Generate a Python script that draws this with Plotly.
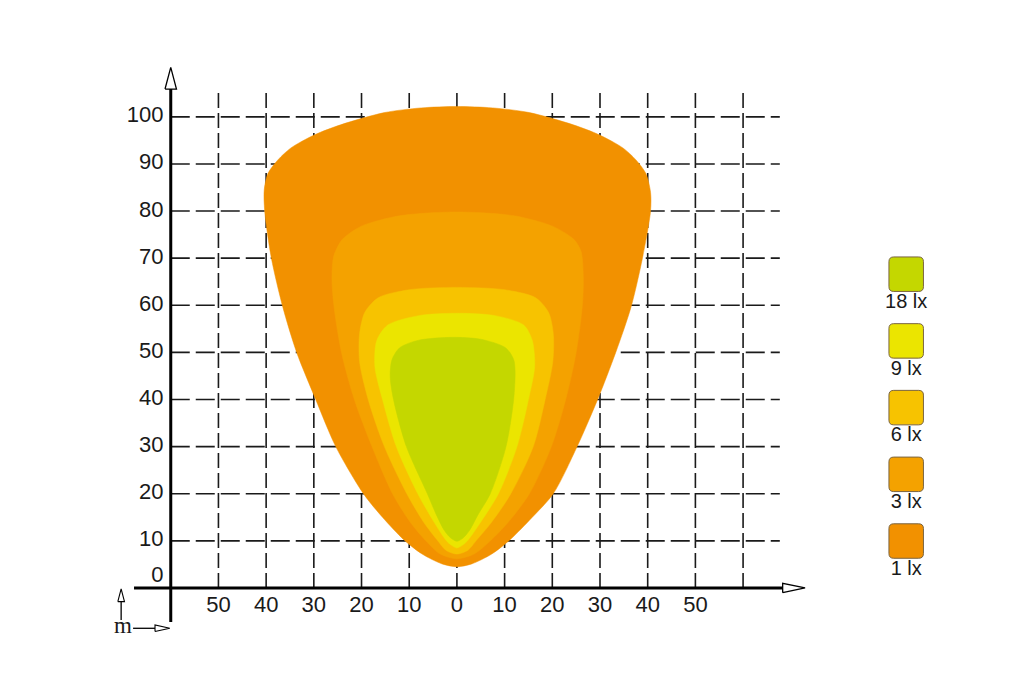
import plotly.graph_objects as go

# ─────────────────────────────────────────────────────────────
# DATA  (metres)
# ─────────────────────────────────────────────────────────────
x_tick_vals = [-50, -40, -30, -20, -10, 0, 10, 20, 30, 40, 50]
x_tick_text = ["50", "40", "30", "20", "10", "0", "10", "20", "30", "40", "50"]
y_tick_vals = [0, 10, 20, 30, 40, 50, 60, 70, 80, 90, 100]
y_tick_text = ["0", "10", "20", "30", "40", "50", "60", "70", "80", "90", "100"]

grid_x = [-50, -40, -30, -20, -10, 0, 10, 20, 30, 40, 50, 60]
grid_y = [10, 20, 30, 40, 50, 60, 70, 80, 90, 100]

# isolux contours, outer -> inner (left side up, across the top, right side down)
lux_1_x = [0, -3.1, -7.3, -11.1, -15.6, -19.6, -25.4, -29.6, -33.6, -36.5, -38.9, -40.3,
           -40.4, -39.6, -37.5, -34.8, -29.8, -24.4, -15.2, -7.5, 0,
           7.5, 15.2, 24.4, 29.8, 34.8, 37.5, 39.6, 40.6, 40.6, 38.9, 36.5,
           33.3, 29.5, 25.2, 20.2, 15.8, 11.1, 7.3, 3.1]
lux_1_y = [4.5, 5.1, 7.2, 10.2, 15, 20, 30, 40, 50, 59.6, 70, 80,
           84.5, 88, 90.9, 93.4, 96.2, 98.3, 100.9, 101.9, 102.2,
           101.9, 100.9, 98.3, 96.2, 93.4, 90.9, 88, 84, 80, 70, 59.6,
           50, 40, 30, 20, 15, 10.2, 7.2, 5.1]

lux_3_x = [0, -3.5, -6.5, -9.8, -13.5, -17.8, -21.5, -24.2, -25.8, -26.2, -25.8, -24.0,
           -20.0, -12.0, 0, 12.0, 20.0, 24.5, 26.0, 26.5, 26.3, 25.0, 22.8, 19.8,
           15.2, 10.8, 7.0, 3.6]
lux_3_y = [6.2, 7.2, 10, 14, 20, 30, 40, 50, 60, 66, 70.5, 74,
           76.8, 79, 79.8, 79, 76.8, 74, 71.5, 66, 60, 50, 40, 30,
           20, 14, 10, 7.2]

lux_6_x = [0, -2.3, -4.0, -7.0, -10.5, -15.2, -18.6, -20.4, -20.4, -19.3, -16.5, -10.0, 0,
           10.0, 16.5, 19.2, 20.2, 20.1, 18.5, 16.0, 11.3, 7.3, 4.0, 2.3]
lux_6_y = [7.2, 8.0, 10, 14, 20, 30, 40, 48, 54, 58.5, 61.6, 63.3, 63.8,
           63.3, 61.6, 58.5, 54, 48, 40, 30, 20, 14, 10, 8.0]

lux_9_x = [0, -1.2, -2.2, -4.8, -8.2, -12.7, -15.6, -17.2, -16.8, -14.5, -8.0, 0,
           8.0, 14.0, 15.8, 16.3, 15.0, 12.6, 8.7, 5.0, 2.2, 1.2]
lux_9_y = [8.5, 9.1, 10, 14, 20, 30, 40, 47, 52.5, 55.8, 57.8, 58.3,
           57.8, 55.8, 52.5, 47, 40, 30, 20, 14, 10, 9.1]

lux_18_x = [0, -1.3, -2.7, -4.3, -6.2, -10.6, -13.3, -14.0, -13.6, -12.0, -8.0, -1.0,
            5.0, 10.2, 11.9, 12.2, 11.9, 10.3, 7.0, 4.4, 2.7, 1.3]
lux_18_y = [9.9, 10.6, 12.3, 15.5, 20, 30, 40, 45, 48.5, 51, 52.6, 53.2,
            52.8, 51, 48.5, 46, 40, 30, 20, 15.5, 12.3, 10.6]

legend_labels = ["18 lx", "9 lx", "6 lx", "3 lx", "1 lx"]
legend_colors = ["#C4D700", "#EBE500", "#F7C300", "#F4A200", "#F29100"]

# ─────────────────────────────────────────────────────────────
# LAYOUT CONSTANTS
# ─────────────────────────────────────────────────────────────
X_RANGE = [-95.8, 118.9]
Y_RANGE = [-18.9, 124.8]
FONT = "Liberation Sans, Arial, sans-serif"
INK = "#1a1a1a"

AX_X = -60          # vertical axis position
AX_Y = 0            # horizontal axis position
GRID_TOP = 105.3
GRID_RIGHT = 67.7

LEG_X = 94.2
LEG_Y0 = 66.6
LEG_STEP = 14.16
LEG_W, LEG_H = 7.23, 7.32

fig = go.Figure()

# ─────────────────────────────────────────────────────────────
# DASHED GRID
# ─────────────────────────────────────────────────────────────
vx, vy = [], []
for gx in grid_x:
    vx += [gx, gx, None]
    vy += [AX_Y, GRID_TOP, None]
fig.add_trace(go.Scatter(x=vx, y=vy, mode="lines",
                         line=dict(color=INK, width=1.6, dash="15px,5px")))

hx, hy = [], []
for gy in grid_y:
    hx += [AX_X, GRID_RIGHT, None]
    hy += [gy, gy, None]
fig.add_trace(go.Scatter(x=hx, y=hy, mode="lines",
                         line=dict(color=INK, width=1.6, dash="19px,6px")))

# ─────────────────────────────────────────────────────────────
# ISOLUX AREAS
# ─────────────────────────────────────────────────────────────
areas = [
    (lux_1_x, lux_1_y, legend_colors[4]),
    (lux_3_x, lux_3_y, legend_colors[3]),
    (lux_6_x, lux_6_y, legend_colors[2]),
    (lux_9_x, lux_9_y, legend_colors[1]),
    (lux_18_x, lux_18_y, legend_colors[0]),
]
for ax_, ay_, col in areas:
    fig.add_trace(go.Scatter(
        x=ax_ + ax_[:1], y=ay_ + ay_[:1],
        mode="lines", fill="toself", fillcolor=col,
        line=dict(color=col, width=0.5, shape="spline", smoothing=0.8),
    ))

# ─────────────────────────────────────────────────────────────
# AXES WITH OPEN ARROW HEADS
# ─────────────────────────────────────────────────────────────
fig.add_trace(go.Scatter(x=[AX_X, AX_X], y=[-7.2, 106.0], mode="lines",
                         line=dict(color="black", width=3)))
fig.add_trace(go.Scatter(x=[-67.7, 68.3], y=[AX_Y, AX_Y], mode="lines",
                         line=dict(color="black", width=3)))

heads = [
    ([AX_X - 1.2, AX_X + 1.2, AX_X, AX_X - 1.2], [105.9, 105.9, 110.5, 105.9]),
    ([68.3, 68.3, 73.0, 68.3], [AX_Y - 1.0, AX_Y + 1.0, AX_Y, AX_Y - 1.0]),
]
for hx_, hy_ in heads:
    fig.add_trace(go.Scatter(x=hx_, y=hy_, mode="lines", fill="toself",
                             fillcolor="white", line=dict(color="black", width=1.3)))

# small unit marker: up arrow, "m", right arrow
fig.add_trace(go.Scatter(x=[-70.4, -70.4], y=[-6.8, -2.9], mode="lines",
                         line=dict(color="black", width=1.3)))
fig.add_trace(go.Scatter(x=[-71.1, -69.7, -70.4, -71.1], y=[-2.9, -2.9, -0.2, -2.9],
                         mode="lines", fill="toself", fillcolor="white",
                         line=dict(color="black", width=1.1)))
fig.add_trace(go.Scatter(x=[-67.9, -63.3], y=[-8.56, -8.56], mode="lines",
                         line=dict(color="black", width=1.3)))
fig.add_trace(go.Scatter(x=[-63.3, -63.3, -60.2, -63.3], y=[-9.26, -7.86, -8.56, -9.26],
                         mode="lines", fill="toself", fillcolor="white",
                         line=dict(color="black", width=1.1)))
fig.add_trace(go.Scatter(x=[-70.0], y=[-8.3], mode="text", text=["m"],
                         textfont=dict(family="Liberation Serif, Times New Roman, serif",
                                       size=23, color=INK)))

# ─────────────────────────────────────────────────────────────
# TICK LABELS
# ─────────────────────────────────────────────────────────────
fig.add_trace(go.Scatter(
    x=x_tick_vals, y=[-3.9] * len(x_tick_vals), mode="text", text=x_tick_text,
    textposition="middle center", textfont=dict(family=FONT, size=22, color=INK),
))
fig.add_trace(go.Scatter(
    x=[AX_X - 1.5] * len(y_tick_vals), y=y_tick_vals, mode="text", text=y_tick_text,
    textposition=["top left"] + ["middle left"] * (len(y_tick_vals) - 1),
    textfont=dict(family=FONT, size=22, color=INK),
))

# ─────────────────────────────────────────────────────────────
# LEGEND (rounded swatches)
# ─────────────────────────────────────────────────────────────
def rounded_box(cx, cy, w, h, rx, ry):
    x0, x1 = cx - w / 2, cx + w / 2
    y0, y1 = cy - h / 2, cy + h / 2
    return (f"M {x0 + rx},{y0} L {x1 - rx},{y0} Q {x1},{y0} {x1},{y0 + ry} "
            f"L {x1},{y1 - ry} Q {x1},{y1} {x1 - rx},{y1} L {x0 + rx},{y1} "
            f"Q {x0},{y1} {x0},{y1 - ry} L {x0},{y0 + ry} Q {x0},{y0} {x0 + rx},{y0} Z")

leg_y = []
for i, (lab, col) in enumerate(zip(legend_labels, legend_colors)):
    cy = LEG_Y0 - i * LEG_STEP
    leg_y.append(cy - 6.1)
    fig.add_shape(type="path", xref="x", yref="y",
                  path=rounded_box(LEG_X, cy, LEG_W, LEG_H, 1.0, 1.0),
                  fillcolor=col, line=dict(color="#7a6440", width=1))

fig.add_trace(go.Scatter(
    x=[LEG_X] * len(legend_labels), y=leg_y, mode="text", text=legend_labels,
    textfont=dict(family=FONT, size=20, color=INK),
))

fig.update_layout(
    width=1024, height=677,
    margin=dict(l=0, r=0, t=0, b=0),
    paper_bgcolor="white", plot_bgcolor="white",
    showlegend=False, hovermode=False,
    xaxis=dict(range=X_RANGE, visible=False, fixedrange=True),
    yaxis=dict(range=Y_RANGE, visible=False, fixedrange=True),
)

fig.write_html("out.html", config={"displayModeBar": False},
               post_script="document.body.style.margin='0';")
